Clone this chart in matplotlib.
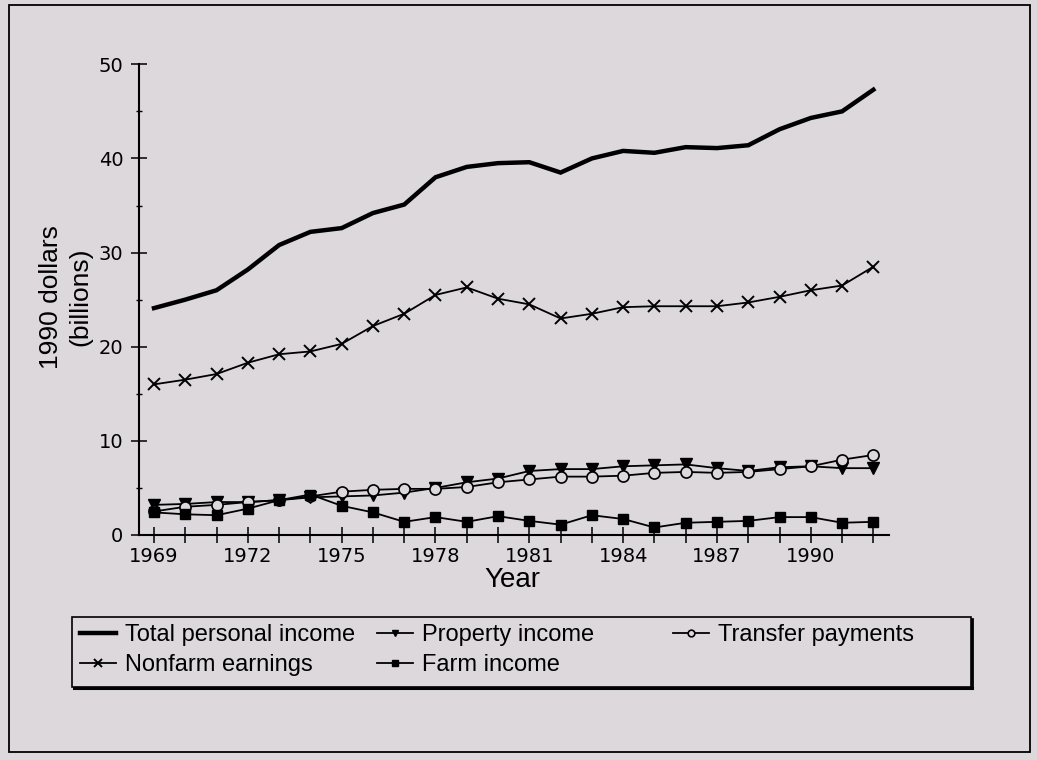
import matplotlib
matplotlib.use('Agg')
import matplotlib.pyplot as plt
from matplotlib.patches import Rectangle
from matplotlib.lines import Line2D
from matplotlib.ticker import MultipleLocator

# ---------------- data ----------------
years = list(range(1969, 1993))
total_personal_income = [24.1, 25.0, 26.0, 28.2, 30.8, 32.2, 32.6, 34.2, 35.1, 38.0, 39.1, 39.5,
                         39.6, 38.5, 40.0, 40.8, 40.6, 41.2, 41.1, 41.4, 43.1, 44.3, 45.0, 47.3]
nonfarm_earnings = [16.0, 16.5, 17.1, 18.3, 19.2, 19.5, 20.3, 22.2, 23.5, 25.5, 26.3, 25.1,
                    24.5, 23.0, 23.5, 24.2, 24.3, 24.3, 24.3, 24.7, 25.3, 26.0, 26.5, 28.5]
property_income = [3.2, 3.3, 3.5, 3.5, 3.7, 4.0, 4.1, 4.2, 4.5, 5.0, 5.6, 6.0,
                   6.8, 7.0, 7.0, 7.3, 7.4, 7.5, 7.1, 6.8, 7.2, 7.3, 7.1, 7.1]
transfer_payments = [2.5, 3.0, 3.2, 3.5, 3.7, 4.1, 4.6, 4.8, 4.9, 4.9, 5.1, 5.6,
                     5.9, 6.2, 6.2, 6.3, 6.6, 6.7, 6.6, 6.7, 7.0, 7.3, 8.0, 8.5]
farm_income = [2.4, 2.2, 2.1, 2.8, 3.7, 4.3, 3.1, 2.4, 1.4, 1.9, 1.4, 2.0,
               1.5, 1.1, 2.1, 1.7, 0.8, 1.3, 1.4, 1.5, 1.9, 1.9, 1.3, 1.4]
labeled_years = [1969, 1972, 1975, 1978, 1981, 1984, 1987, 1990]
series_labels = ["Total personal income", "Nonfarm earnings", "Property income",
                 "Farm income", "Transfer payments"]

# ---------------- style ----------------
BG = '#dcd8dc'
W, H = 1037, 760
plt.rcParams['font.family'] = ['Liberation Sans', 'DejaVu Sans']

fig = plt.figure(figsize=(W / 100, H / 100), dpi=100, facecolor=BG)
ax = fig.add_axes([139.3 / W, 1 - 535 / H, (889 - 139.3) / W, (535 - 64.3) / H])
ax.set_facecolor(BG)

l_total, = ax.plot(years, total_personal_income, color='black', lw=3.2,
                   solid_joinstyle='miter')
l_nonfarm, = ax.plot(years, nonfarm_earnings, color='black', lw=1.3, marker='x',
                     ms=9, mew=1.4)
l_prop, = ax.plot(years, property_income, color='black', lw=1.3, marker='v',
                  ms=8, mfc='black')
l_trans, = ax.plot(years, transfer_payments, color='black', lw=1.3, marker='o',
                   ms=8, mfc=BG, mew=1.2)
l_farm, = ax.plot(years, farm_income, color='black', lw=1.3, marker='s',
                  ms=7.5, mfc='black')

ax.set_xlim(1968.53, 1992.5)
ax.set_ylim(0, 50)
for s in ['top', 'right']:
    ax.spines[s].set_visible(False)
for s in ['left', 'bottom']:
    ax.spines[s].set_linewidth(1.5)

ax.set_xticks(years)
ax.set_xticklabels([str(y) if y in labeled_years else '' for y in years])
ax.yaxis.set_major_locator(MultipleLocator(10))
ax.yaxis.set_minor_locator(MultipleLocator(5))
ax.tick_params(axis='x', direction='inout', length=11, width=1.1, pad=3, labelsize=14)
ax.tick_params(axis='y', which='major', direction='inout', length=11, width=1.1, pad=6,
               labelsize=14)
ax.tick_params(axis='y', which='minor', direction='inout', length=5, width=1.0)
for lab in ax.get_xticklabels() + ax.get_yticklabels():
    lab.set_fontfamily('DejaVu Sans')

fig.text(65.5 / W, 1 - 297 / H, "1990 dollars\n(billions)", rotation=90, ha='center',
         va='center', multialignment='center', fontsize=19, linespacing=1.25)
fig.text(512 / W, 1 - 580 / H, "Year", ha='center', va='center', fontsize=20)

# ---------------- legend ----------------
handles = [l_total, l_nonfarm, l_prop, l_farm, l_trans]
positions = [(80, 635), (80, 665), (377, 635), (377, 665), (673, 635)]
for h, lab, (px, py) in zip(handles, series_labels, positions):
    fig.legend(handles=[h], labels=[lab], loc='center left',
               bbox_to_anchor=(px / W, 1 - py / H), frameon=False, borderpad=0,
               borderaxespad=0, handlelength=1.52, handletextpad=0.4, fontsize=17,
               markerscale=0.6, numpoints=1)

LX0, LX1, LY0, LY1 = 72, 971, 617, 687
fig.patches.append(Rectangle((LX0 / W, 1 - LY1 / H), (LX1 - LX0) / W, (LY1 - LY0) / H,
                             transform=fig.transFigure, fill=False, lw=1.2,
                             edgecolor='black'))
fig.add_artist(Line2D([(LX0 + 2) / W, (LX1 + 1) / W], [1 - (LY1 + 0.5) / H, 1 - (LY1 + 0.5) / H],
                      transform=fig.transFigure, color='black', lw=2.2))
fig.add_artist(Line2D([(LX1 + 0.5) / W, (LX1 + 0.5) / W], [1 - (LY0 + 2) / H, 1 - (LY1 + 1) / H],
                      transform=fig.transFigure, color='black', lw=2.0))

# figure border
fig.patches.append(Rectangle((9 / W, 1 - 752 / H), (1030 - 9) / W, (752 - 5) / H,
                             transform=fig.transFigure, fill=False, lw=1.3,
                             edgecolor='black'))

fig.savefig('out.png', dpi=100, facecolor=BG)
